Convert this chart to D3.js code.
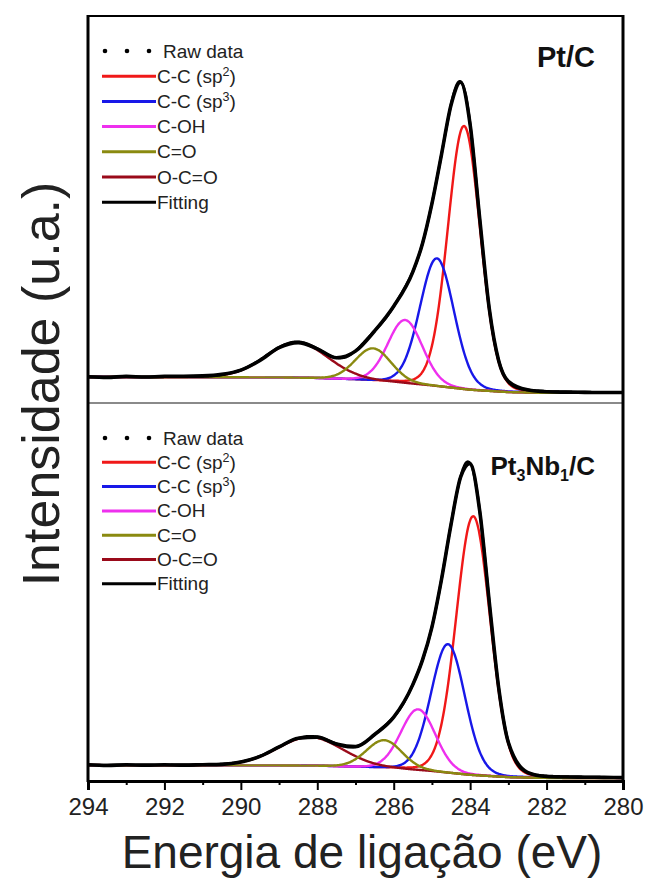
<!DOCTYPE html>
<html>
<head>
<meta charset="utf-8">
<script src="https://cdn.jsdelivr.net/npm/d3@7"></script>
<style>
  html, body { margin: 0; padding: 0; background: #fff; }
  svg { display: block; }
  text { font-family: "Liberation Sans", Arial, sans-serif; }
</style>
</head>
<body>
<svg id="chart" width="648" height="882"></svg>
<script>
// ---------------- DATA ----------------
const energyTicks = [294, 292, 290, 288, 286, 284, 282, 280];
const minorTicks = [293, 291, 289, 287, 285, 283, 281];
const panelLabels = ["Pt/C", "Pt3Nb1/C"];
const legendLabels = ["Raw data", "C-C (sp2)", "C-C (sp3)", "C-OH", "C=O", "O-C=O", "Fitting"];
const componentNames = ["C-C (sp2)", "C-C (sp3)", "C-OH", "C=O", "O-C=O"];
const componentColors = ["#f01818", "#1818e8", "#ee30ee", "#8a8a10", "#9a0a1a"];

// fitted components: centre (eV), height (a.u.), FWHM (eV)
const centersTop = [284.16, 284.87, 285.70, 286.54, 288.53];
const heightsTop = [68.0, 33.0, 16.3, 8.4, 9.1];
const fwhmTop = [1.0, 1.05, 1.07, 1.1, 1.9];

const centersBottom = [283.92, 284.58, 285.36, 286.25, 288.19];
const heightsBottom = [68.5, 34.0, 16.1, 7.4, 7.6];
const fwhmBottom = [1.05, 1.05, 1.07, 1.1, 2.0];

// Shirley-type background
const bgEnergy = [294, 289, 288, 287, 286, 285, 284, 283, 282, 280];
const bgTop = [6.7, 6.6, 6.4, 6.0, 5.4, 4.5, 3.4, 2.8, 2.6, 2.6];
const bgBottom = [4.2, 4.1, 4.0, 3.7, 3.3, 2.6, 1.6, 1.0, 0.8, 0.8];

// raw data
const rawEnergy = [294, 293.5, 293, 292.5, 292, 291.5, 291, 290.5, 290, 289.5, 289, 288.5, 288, 287.5, 287, 286.5, 286, 285.5,
  285.25, 285, 284.75, 284.5, 284.25, 284, 283.75, 283.5, 283.25, 283, 282.5, 282, 281.5, 281, 280.5, 280];
const rawTop = [6.8, 6.6, 6.9, 6.7, 6.9, 6.9, 7.0, 7.4, 8.5, 11.0, 14.3, 15.6, 14.0, 11.7, 13.4, 18.6, 25.0, 33.9,
  41.1, 51.5, 64.2, 77.0, 82.9, 71.9, 47.7, 24.4, 10.8, 5.6, 3.4, 2.9, 2.8, 2.75, 2.7, 2.7];
const rawBottom = [4.3, 4.1, 4.3, 4.2, 4.3, 4.2, 4.3, 4.4, 5.0, 6.5, 9.0, 11.3, 11.6, 9.8, 9.1, 12.3, 16.9, 25.5,
  31.9, 40.7, 53.3, 67.9, 80.4, 84.0, 71.5, 47.4, 24.4, 10.2, 2.3, 1.2, 1.05, 1.0, 0.95, 0.9];

const glMix = 0.08;

// ---------------- LAYOUT ----------------
const svg = d3.select("#chart");
const frameL = 88, frameR = 623, frameT = 16, frameM = 403, frameB = 781;

const x = d3.scaleLinear().domain([294, 280]).range([frameL, frameR]);

const panels = [
  { label: panelLabels[0], centers: centersTop, heights: heightsTop, fwhm: fwhmTop, bg: bgTop, raw: rawTop,
    y: d3.scaleLinear().domain([0, 100]).range([frameM, frameT]), legendY0: 51, legendStep: 25.2, labelY: 67,
    y0: frameT, y1: frameM, labelSize: 29, subSize: 18 },
  { label: panelLabels[1], centers: centersBottom, heights: heightsBottom, fwhm: fwhmBottom, bg: bgBottom, raw: rawBottom,
    y: d3.scaleLinear().domain([0, 100]).range([frameB, frameM]), legendY0: 438, legendStep: 24.3, labelY: 475,
    y0: frameM, y1: frameB, labelSize: 26, subSize: 16 }
];

function gl(e, c, h, w) {
  const u = (e - c) / w;
  const g = Math.exp(-4 * Math.LN2 * u * u);
  const l = 1 / (1 + 4 * u * u);
  return h * ((1 - glMix) * g + glMix * l);
}

const grid = d3.range(294, 279.99, -0.02);
const drawOrder = [0, 1, 2, 4, 3];

const defs = svg.append("defs");

panels.forEach((p, pi) => {
  defs.append("clipPath").attr("id", "clip" + pi)
    .append("rect").attr("x", frameL).attr("y", p.y0).attr("width", frameR - frameL).attr("height", p.y1 - p.y0);
  const g = svg.append("g").attr("clip-path", `url(#clip${pi})`);
  const bgScale = d3.scaleLinear().domain(bgEnergy).range(p.bg);
  const line = d3.line().x(d => x(d[0])).y(d => p.y(d[1])).curve(d3.curveMonotoneX);

  drawOrder.forEach(k => {
    const pts = grid.map(e => [e, bgScale(e) + gl(e, p.centers[k], p.heights[k], p.fwhm[k])]);
    g.append("path").attr("d", line(pts)).attr("fill", "none")
      .attr("stroke", componentColors[k]).attr("stroke-width", 2.4);
  });

  // raw data
  const rawPts = rawEnergy.map((e, i) => [e, p.raw[i]]);
  g.append("path").attr("d", line(rawPts)).attr("fill", "none")
    .attr("stroke", "#000").attr("stroke-width", 3.6).attr("stroke-linejoin", "round");

  // fitting envelope
  const fitPts = grid.map(e => [e, bgScale(e) + d3.sum(p.centers, (c, k) => gl(e, c, p.heights[k], p.fwhm[k]))]);
  g.append("path").attr("d", line(fitPts)).attr("fill", "none")
    .attr("stroke", "#000").attr("stroke-width", 2.6);

  // legend
  const lg = svg.append("g");
  legendLabels.forEach((lab, i) => {
    const ly = p.legendY0 + i * p.legendStep;
    if (i === 0) {
      [105, 127, 149].forEach(cx => lg.append("circle").attr("cx", cx).attr("cy", ly).attr("r", 2.3).attr("fill", "#000"));
    } else {
      const col = i === 6 ? "#000" : componentColors[i - 1];
      lg.append("line").attr("x1", 102).attr("x2", 156).attr("y1", ly).attr("y2", ly)
        .attr("stroke", col).attr("stroke-width", 3);
    }
    const t = lg.append("text").attr("x", i === 0 ? 163 : 157).attr("y", ly + 6.5)
      .attr("font-size", 19).attr("fill", "#222");
    const m = lab.match(/^(.*\(sp)(\d)(\))$/);
    if (m) {
      t.append("tspan").text(m[1]);
      t.append("tspan").text(m[2]).attr("font-size", 12.5).attr("dy", -7);
      t.append("tspan").text(m[3]).attr("dy", 7);
    } else {
      t.text(lab);
    }
  });

  // panel label
  const pl = svg.append("text").attr("x", 595).attr("y", p.labelY).attr("text-anchor", "end")
    .attr("font-size", p.labelSize).attr("font-weight", "bold").attr("fill", "#111");
  const parts = p.label.match(/^Pt(\d)Nb(\d)(\/C)$/);
  if (parts) {
    pl.append("tspan").text("Pt");
    pl.append("tspan").text(parts[1]).attr("font-size", p.subSize).attr("dy", 6);
    pl.append("tspan").text("Nb").attr("dy", -6);
    pl.append("tspan").text(parts[2]).attr("font-size", p.subSize).attr("dy", 6);
    pl.append("tspan").text(parts[3]).attr("dy", -6);
  } else {
    pl.text(p.label);
  }
});

// frame
svg.append("line").attr("x1", frameL).attr("x2", frameR).attr("y1", frameT).attr("y2", frameT)
  .attr("stroke", "#000").attr("stroke-width", 2);
svg.append("line").attr("x1", frameL).attr("x2", frameR).attr("y1", frameM).attr("y2", frameM)
  .attr("stroke", "#8a8a8a").attr("stroke-width", 2);
svg.append("line").attr("x1", frameL).attr("x2", frameL).attr("y1", frameT - 1).attr("y2", frameB + 1)
  .attr("stroke", "#000").attr("stroke-width", 3);
svg.append("line").attr("x1", frameR).attr("x2", frameR).attr("y1", frameT - 1).attr("y2", frameB)
  .attr("stroke", "#000").attr("stroke-width", 3);

// x axis
const xAxis = d3.axisBottom(x).tickValues(energyTicks).tickSize(9).tickPadding(8).tickFormat(d3.format("d"));
const ax = svg.append("g").attr("transform", `translate(0,${frameB})`).call(xAxis);
ax.select(".domain").attr("stroke", "#000").attr("stroke-width", 3);
ax.selectAll(".tick line").attr("stroke", "#000").attr("stroke-width", 2);
ax.selectAll(".tick text").attr("font-size", 24).attr("fill", "#222")
  .attr("font-family", "'Liberation Sans', Arial, sans-serif");
const axMinor = d3.axisBottom(x).tickValues(minorTicks).tickSize(4).tickFormat("");
const am = svg.append("g").attr("transform", `translate(0,${frameB})`).call(axMinor);
am.select(".domain").remove();
am.selectAll(".tick line").attr("stroke", "#000").attr("stroke-width", 2);

// axis titles
svg.append("text").attr("x", 362).attr("y", 868).attr("text-anchor", "middle")
  .attr("font-size", 46).attr("fill", "#222").text("Energia de ligação (eV)");
svg.append("text").attr("transform", "translate(59,384) rotate(-90)").attr("text-anchor", "middle")
  .attr("font-size", 52).attr("fill", "#222").text("Intensidade (u.a.)");
</script>
</body>
</html>
